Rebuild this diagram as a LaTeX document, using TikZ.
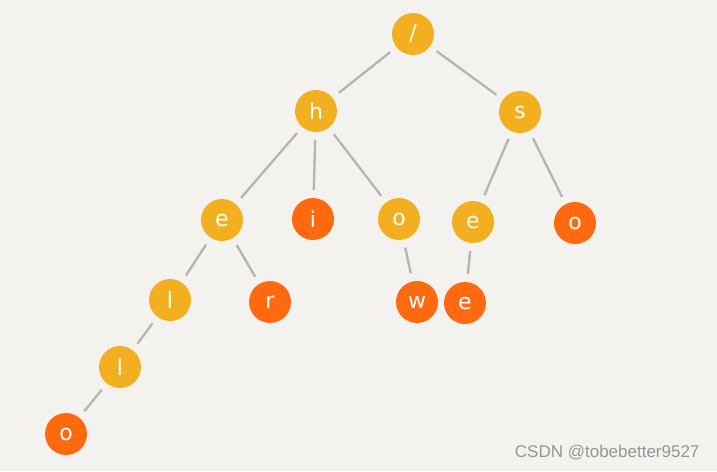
\documentclass[tikz,border=0pt]{standalone}
\usepackage{fontspec}
\setmainfont{Liberation Sans}
\newfontfamily\handfont{DejaVu Sans}
\definecolor{bgc}{RGB}{244,242,238}
\definecolor{ylw}{RGB}{242,176,32}
\definecolor{org}{RGB}{255,106,16}
\definecolor{edg}{RGB}{180,180,178}
\definecolor{wm}{RGB}{150,150,150}
\tikzset{
  tnode/.style={circle, minimum size=42pt, inner sep=0pt, text=white, font=\handfont\fontsize{22}{22}\selectfont},
  inner/.style={tnode, fill=ylw},
  leaf/.style={tnode, fill=org},
  edge/.style={draw=edg, line width=2.3pt, shorten <=8pt, shorten >=8pt},
}
\begin{document}
\begin{tikzpicture}[x=1pt,y=-1pt]
\fill[bgc] (0,0) rectangle (717,471);
\useasboundingbox (0,0) rectangle (717,471);
\node[inner] (root) at (413,34) {/};
\node[inner] (h) at (316,111) {h};
\node[inner] (s) at (520,112) {s};
\node[inner] (e1) at (222,220) {e};
\node[leaf] (i) at (313,219) {i};
\node[inner] (o1) at (399,219) {o};
\node[inner] (e2) at (473,222) {e};
\node[leaf] (o2) at (575,223) {o};
\node[inner] (l1) at (170,300) {l};
\node[leaf] (r) at (270,302) {r};
\node[leaf] (w) at (417,302) {w};
\node[leaf] (e3) at (465,303) {e};
\node[inner] (l2) at (120,367) {l};
\node[leaf] (o3) at (66,434) {o};
\path[edge] (root) -- (h);
\path[edge] (root) -- (s);
\path[edge] (h) -- (e1);
\path[edge] (h) -- (i);
\path[edge] (h) -- (o1);
\path[edge] (s) -- (e2);
\path[edge] (s) -- (o2);
\path[edge] (e1) -- (l1);
\path[edge] (e1) -- (r);
\path[edge] (o1) -- (w);
\path[edge] (e2) -- (e3);
\path[edge] (l1) -- (l2);
\path[edge] (l2) -- (o3);
\node[text=wm, font=\fontsize{17}{17}\selectfont, anchor=east] (wmk) at (703,453) {CSDN @tobebetter9527};
\end{tikzpicture}
\end{document}
